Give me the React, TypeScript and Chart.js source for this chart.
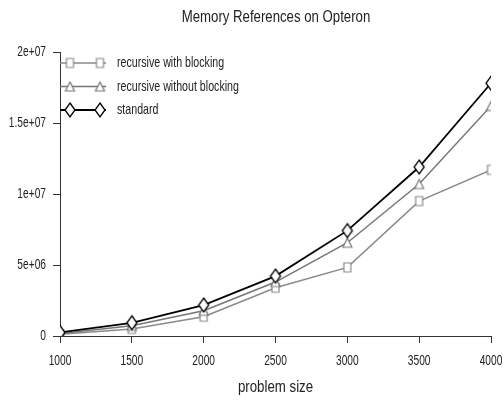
import React, { useEffect, useRef } from "react";
import { Chart, registerables } from "chart.js";

Chart.register(...registerables);

const problemSizes = [1000, 1500, 2000, 2500, 3000, 3500, 4000];
const recursiveWithBlocking = [0.12e6, 0.5e6, 1.36e6, 3.4e6, 4.83e6, 9.5e6, 11.7e6];
const recursiveWithoutBlocking = [0.18e6, 0.72e6, 1.78e6, 3.8e6, 6.57e6, 10.7e6, 16.2e6];
const standard = [0.25e6, 0.93e6, 2.18e6, 4.22e6, 7.42e6, 11.9e6, 17.8e6];
const seriesNames = ["recursive with blocking", "recursive without blocking", "standard"];
const titleText = "Memory References on Opteron";
const xTitle = "problem size";

const FONT = "'Liberation Sans', Arial, Helvetica, sans-serif";
const TEXT = "#222222";

function fmtR(v: number): string {
  if (v === 0) return "0";
  const e = Math.floor(Math.log10(Math.abs(v)) + 1e-9);
  const m = v / Math.pow(10, e);
  const ms = String(Math.round(m * 100) / 100);
  const es = (e < 0 ? "-" : "+") + String(Math.abs(e)).padStart(2, "0");
  return ms + "e" + es;
}

function narrowText(
  ctx: CanvasRenderingContext2D,
  text: string,
  x: number,
  y: number,
  size: number,
  sx: number,
  align: CanvasTextAlign,
  baseline: CanvasTextBaseline
) {
  ctx.save();
  ctx.translate(x, y);
  ctx.scale(sx, 1);
  ctx.font = size + "px " + FONT;
  ctx.fillStyle = TEXT;
  ctx.textAlign = align;
  ctx.textBaseline = baseline;
  ctx.fillText(text, 0, 0);
  ctx.restore();
}

function makeMarker(shape: string, color: string, w: number, h: number, lw: number) {
  const pad = 2;
  const c = document.createElement("canvas");
  c.width = w + pad * 2;
  c.height = h + pad * 2;
  const ctx = c.getContext("2d")!;
  ctx.fillStyle = "#ffffff";
  ctx.strokeStyle = color;
  ctx.lineWidth = lw;
  const cx = c.width / 2;
  const cy = c.height / 2;
  ctx.beginPath();
  if (shape === "square") {
    ctx.rect(cx - w / 2, cy - h / 2, w, h);
  } else if (shape === "triangle") {
    ctx.moveTo(cx, cy - h / 2);
    ctx.lineTo(cx + w / 2, cy + h / 2);
    ctx.lineTo(cx - w / 2, cy + h / 2);
    ctx.closePath();
  } else {
    ctx.moveTo(cx, cy - h / 2);
    ctx.lineTo(cx + w / 2, cy);
    ctx.lineTo(cx, cy + h / 2);
    ctx.lineTo(cx - w / 2, cy);
    ctx.closePath();
  }
  ctx.fill();
  ctx.stroke();
  return c;
}

export default function App() {
  const ref = useRef<HTMLCanvasElement | null>(null);

  useEffect(() => {
    document.body.style.margin = "0";
    const canvas = ref.current;
    if (!canvas) return;
    const colors = ["#8a8a8a", "#767676", "#000000"];
    const markers = [
      makeMarker("square", colors[0], 7, 9, 1.2),
      makeMarker("triangle", colors[1], 9, 9, 1.2),
      makeMarker("diamond", colors[2], 10, 14, 1.3),
    ];
    const values = [recursiveWithBlocking, recursiveWithoutBlocking, standard];

    const textPlugin = {
      id: "rtext",
      afterDraw(chart: any) {
        const ctx = chart.ctx as CanvasRenderingContext2D;
        const area = chart.chartArea;
        const xs = chart.scales.x;
        const ys = chart.scales.y;

        // title
        narrowText(ctx, titleText, (xs.left + xs.right) / 2 + 0.5, 18, 16, 0.825, "center", "middle");

        // x tick labels
        xs.ticks.forEach((t: any) => {
          const px = xs.getPixelForValue(t.value);
          narrowText(ctx, String(t.value), px, 361, 15, 0.68, "center", "middle");
        });
        // y tick labels
        ys.ticks.forEach((t: any) => {
          const py = ys.getPixelForValue(t.value);
          narrowText(ctx, fmtR(t.value), area.left - 14, py, 15, 0.68, "right", "middle");
        });
        // x axis title
        narrowText(ctx, xTitle, (xs.left + xs.right) / 2, 392, 17, 0.78, "center", "alphabetic");

        // legend
        const rows = [63, 86.5, 110];
        chart.data.datasets.forEach((ds: any, i: number) => {
          const y = rows[i];
          ctx.save();
          ctx.strokeStyle = ds.borderColor;
          ctx.lineWidth = ds.borderWidth;
          ctx.beginPath();
          ctx.moveTo(area.left, y);
          ctx.lineTo(area.left + 46, y);
          ctx.stroke();
          const m = markers[i];
          [area.left + 10, area.left + 40].forEach((x) => {
            ctx.drawImage(m, x - m.width / 2, y - m.height / 2);
          });
          ctx.restore();
          narrowText(ctx, ds.label, area.left + 57, y, 15, 0.71, "left", "middle");
        });
      },
    };

    const chart = new Chart(canvas, {
      type: "line",
      data: {
        datasets: values.map((v, i) => ({
          label: seriesNames[i],
          data: problemSizes.map((x, j) => ({ x, y: v[j] })),
          borderColor: colors[i],
          backgroundColor: "#ffffff",
          borderWidth: i === 2 ? 1.8 : 1.5,
          pointStyle: markers[i],
          pointRadius: 6,
          tension: 0,
          order: 3 - i,
        })),
      },
      options: {
        animation: false,
        responsive: false,
        maintainAspectRatio: false,
        layout: { padding: { left: 0, right: 12, top: 52, bottom: 0 } },
        plugins: {
          legend: { display: false },
          title: { display: false },
          tooltip: { enabled: false },
        },
        scales: {
          x: {
            type: "linear",
            min: 1000,
            max: 4000,
            border: { display: true, color: "#333", width: 1 },
            grid: { drawOnChartArea: false, tickLength: 7, color: "#333", tickColor: "#333" },
            ticks: { stepSize: 500, display: false },
            afterFit: (s: any) => {
              s.height = 64;
            },
          },
          y: {
            min: 0,
            max: 2e7,
            border: { display: true, color: "#333", width: 1 },
            grid: { drawOnChartArea: false, tickLength: 7, color: "#333", tickColor: "#333" },
            ticks: { stepSize: 5e6, display: false },
            afterFit: (s: any) => {
              s.width = 60;
            },
          },
        },
      },
      plugins: [textPlugin],
    });
    return () => chart.destroy();
  }, []);

  return (
    <div style={{ width: 503, height: 400, position: "relative" }}>
      <canvas ref={ref} width={503} height={400} style={{ display: "block" }} />
    </div>
  );
}
